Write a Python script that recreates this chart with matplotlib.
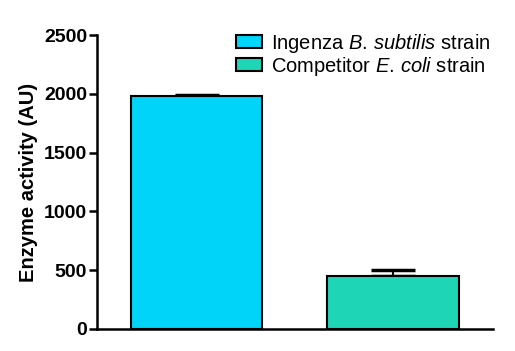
import numpy as np
import matplotlib
matplotlib.use("Agg")
import matplotlib.pyplot as plt

plt.rcParams['font.family'] = ['Liberation Sans', 'DejaVu Sans']
plt.rcParams['mathtext.fontset'] = 'custom'
plt.rcParams['mathtext.rm'] = 'Liberation Sans'
plt.rcParams['mathtext.it'] = 'Liberation Sans:italic'

# Data
strains = [r'Ingenza $\mathit{B.\,subtilis}$ strain', r'Competitor $\mathit{E.\,coli}$ strain']
activity = [1980, 452]
errors = [14, 45]
colors = ['#00D4F8', '#1ED6B6']

fig = plt.figure(figsize=(5.15, 3.51), dpi=100)
ax = fig.add_axes([0.188, 0.063, 0.769, 0.837])

x = np.arange(len(strains))
for i in range(len(strains)):
    ax.bar(x[i], activity[i], width=0.67, color=colors[i], edgecolor='black',
           linewidth=1.5, label=strains[i], zorder=2)
    ax.errorbar(x[i], activity[i], yerr=[[0], [errors[i]]], fmt='none',
                ecolor='black', elinewidth=1.5, capsize=16, capthick=2.5, zorder=1)

ax.set_xlim(-0.51, 1.51)
ax.set_ylim(0, 2500)
ax.set_yticks([0, 500, 1000, 1500, 2000, 2500])
ax.set_xticks([])
ax.set_ylabel('Enzyme activity (AU)', fontsize=14.5, fontweight='bold', labelpad=4)

for s in ['top', 'right']:
    ax.spines[s].set_visible(False)
for s in ['left', 'bottom']:
    ax.spines[s].set_linewidth(1.8)
ax.tick_params(axis='y', width=1.8, length=6, labelsize=14, pad=1)
for lab in ax.get_yticklabels():
    lab.set_fontweight('bold')

h, l = ax.get_legend_handles_labels()
fig.legend(h, l, loc='upper left', bbox_to_anchor=(0.458, 0.91), frameon=False,
           fontsize=14.5, borderpad=0, borderaxespad=0, handlelength=1.3,
           handleheight=0.55, handletextpad=0.45, labelspacing=0.0)

fig.savefig('out.png', dpi=100)
